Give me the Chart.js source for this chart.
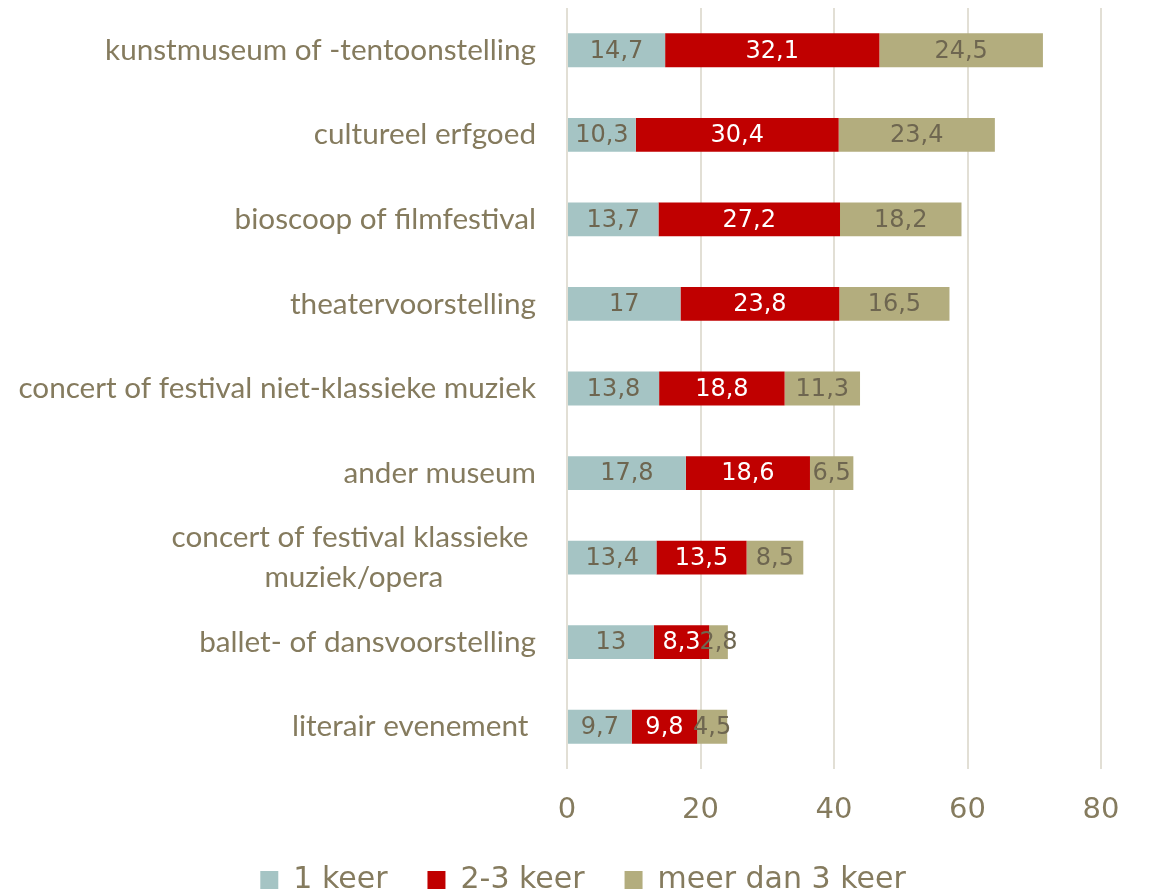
<!DOCTYPE html>
<html>
<head>
<meta charset="utf-8">
<script src="https://cdn.jsdelivr.net/npm/chart.js@4"></script>
<style>
html,body{margin:0;padding:0;background:#fff;}
canvas{display:block;}
</style>
</head>
<body>
<canvas id="c" width="1152" height="891"></canvas>
<script>
const categories = [
  "kunstmuseum of -tentoonstelling",
  "cultureel erfgoed",
  "bioscoop of filmfestival",
  "theatervoorstelling",
  "concert of festival niet-klassieke muziek",
  "ander museum",
  ["concert of festival klassieke ", "muziek/opera"],
  "ballet- of dansvoorstelling",
  "literair evenement "
];
const seriesNames = ["1 keer", "2-3 keer", "meer dan 3 keer"];
const eenKeer = [14.7, 10.3, 13.7, 17, 13.8, 17.8, 13.4, 13, 9.7];
const tweeDrieKeer = [32.1, 30.4, 27.2, 23.8, 18.8, 18.6, 13.5, 8.3, 9.8];
const meerDanDrie = [24.5, 23.4, 18.2, 16.5, 11.3, 6.5, 8.5, 2.8, 4.5];
const xTicks = [0, 20, 40, 60, 80];

const colors = ["#a5c4c4", "#c00000", "#b3ad7e"];
const labelColors = ["#6e6650", "#ffffff", "#6e6650"];
const textColor = "#857b5e";
const numFont = "'DejaVu Sans'";

const catLabelPlugin = {
  id: "catLabels",
  afterDraw(chart) {
    const ctx = chart.ctx, ys = chart.scales.y;
    ctx.save();
    ctx.fillStyle = textColor;
    ctx.textBaseline = "middle";
    ctx.font = "29.7px Lato";
    const right = 536, lh = 40;
    categories.forEach((lab, i) => {
      const cy = ys.getPixelForValue(i);
      const lines = Array.isArray(lab) ? lab : [lab];
      const maxW = Math.max(...lines.map(l => ctx.measureText(l).width));
      lines.forEach((l, j) => {
        const ly = cy + (j - (lines.length - 1) / 2) * lh;
        if (lines.length > 1) { ctx.textAlign = "center"; ctx.fillText(l, right - maxW / 2, ly); }
        else { ctx.textAlign = "right"; ctx.fillText(l, right, ly); }
      });
    });
    ctx.restore();
  }
};

const dataLabelPlugin = {
  id: "dataLabels",
  afterDatasetsDraw(chart) {
    const ctx = chart.ctx;
    ctx.save();
    ctx.font = "24px " + numFont;
    ctx.textAlign = "center";
    ctx.textBaseline = "middle";
    chart.data.datasets.forEach((ds, di) => {
      const meta = chart.getDatasetMeta(di);
      ctx.fillStyle = labelColors[di];
      meta.data.forEach((el, i) => {
        const v = ds.data[i];
        const x = (el.x + el.base) / 2;
        ctx.fillText(String(v).replace(".", ","), x, el.y + 1);
      });
    });
    ctx.restore();
  }
};

const labelStrings = categories.map(c => Array.isArray(c) ? c.join(" ") : c);

new Chart(document.getElementById("c"), {
  type: "bar",
  data: {
    labels: labelStrings,
    datasets: [
      { label: seriesNames[0], data: eenKeer, backgroundColor: colors[0] },
      { label: seriesNames[1], data: tweeDrieKeer, backgroundColor: colors[1] },
      { label: seriesNames[2], data: meerDanDrie, backgroundColor: colors[2] }
    ]
  },
  options: {
    indexAxis: "y",
    responsive: false,
    animation: false,
    layout: { padding: { left: 65, right: 51, top: 8, bottom: -14 } },
    datasets: { bar: { categoryPercentage: 0.8, barPercentage: 0.5 } },
    scales: {
      x: {
        stacked: true,
        min: 0, max: 80,
        afterBuildTicks: s => { s.ticks = xTicks.map(v => ({ value: v })); },
        grid: { color: "#e2dfd5", lineWidth: 2, drawTicks: false },
        border: { display: false },
        ticks: { color: textColor, font: { family: numFont, size: 29 }, padding: 24 },
        afterFit: s => { s.height = 56; }
      },
      y: {
        stacked: true,
        grid: { display: false },
        border: { display: false },
        ticks: { display: false },
        afterFit: s => { s.width = 502; }
      }
    },
    plugins: {
      legend: {
        position: "bottom",
        labels: {
          color: textColor,
          font: { family: numFont, size: 30 },
          boxWidth: 18, boxHeight: 18,
          padding: 40
        }
      },
      tooltip: { enabled: false }
    }
  },
  plugins: [catLabelPlugin, dataLabelPlugin]
});
</script>
</body>
</html>
